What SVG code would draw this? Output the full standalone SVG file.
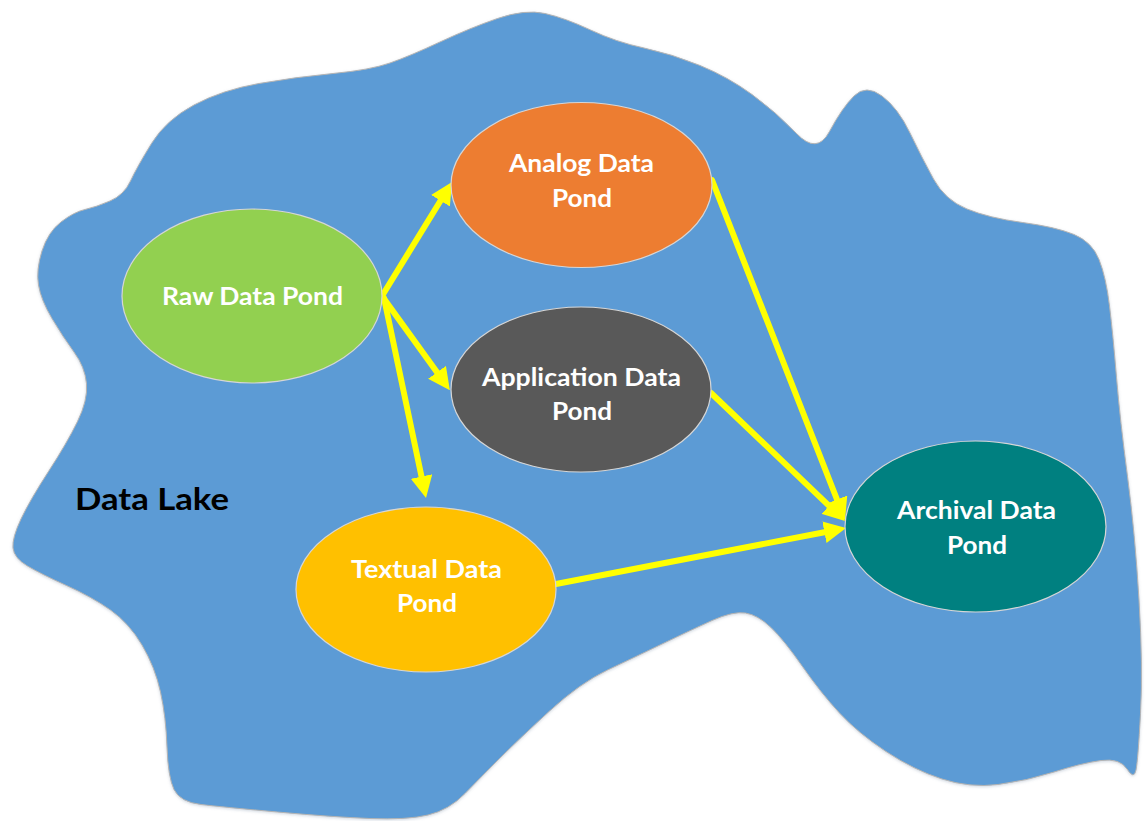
<svg xmlns="http://www.w3.org/2000/svg" width="1145" height="821" viewBox="0 0 1145 821">
  <style>
    .pond { stroke: #D6D6D6; stroke-width: 1.2; }
    .label { font-family: Lato, "Open Sans", "Liberation Sans", sans-serif; font-weight: bold; font-size: 25px; fill: #FFFFFF; text-anchor: middle; }
    .lake-label { font-family: Lato, "Open Sans", "Liberation Sans", sans-serif; font-weight: bold; font-size: 30px; fill: #000000; }
    .flow { fill: none; stroke: #FFFF00; stroke-width: 6; stroke-linecap: round; stroke-linejoin: round; marker-end: url(#head); }
  </style>
  <defs>
    <marker id="head" viewBox="0 0 22 22" refX="0" refY="11" markerWidth="22" markerHeight="22" markerUnits="userSpaceOnUse" orient="auto">
      <path d="M0,0 L22,11 L0,22 Z" fill="#FFFF00"/>
    </marker>
    <filter id="soft" x="-5%" y="-5%" width="110%" height="110%">
      <feDropShadow dx="0" dy="1" stdDeviation="1.5" flood-color="#7A8FA8" flood-opacity="0.35"/>
    </filter>
  </defs>

  <rect width="1145" height="821" fill="#FFFFFF"/>

  <!-- the lake outline -->
  <g id="lake">
    <path filter="url(#soft)" fill="#5B9BD5" stroke="#B4B4B4" stroke-width="1"
      d="M440,42 Q470,28 497.5,18.5 Q525,9 545,13.5 Q565,18 590.5,30 Q616,42 644,48 Q672,54 700,65.5 Q728,77 752,94.5 Q776,112 796.5,133.5 Q817,155 829.5,131.5 Q842,108 854,96 Q866,84 882,96 Q898,108 910,133 Q922,158 933.5,179 Q945,200 967,209 Q989,218 1022.5,222.5 Q1056,227 1074,234.5 Q1092,242 1099,259.5 Q1106,277 1109.5,306 Q1113,335 1116.5,377.5 Q1120,420 1127.5,476.5 Q1135,533 1139,600 Q1143,667 1140.5,713.5 Q1138,760 1136,770 Q1134,780 1127,769 Q1120,758 1101,760.5 Q1082,763 1054,772 Q1026,781 998,784.5 Q970,788 942,779 Q914,770 886,751.5 Q858,733 839.5,713 Q821,693 802.5,666.5 Q784,640 771,627.5 Q758,615 745.5,613 Q733,611 712,620.5 Q691,630 663,643.5 Q635,657 607.5,670 Q580,683 549,711.5 Q518,740 499.5,758.5 Q481,777 465,793.5 Q449,810 428,815 Q407,820 370,818.5 Q333,817 277.5,812 Q222,807 201,804.5 Q180,802 174,789.5 Q168,777 167,747 Q166,717 160.5,692 Q155,667 142,645 Q129,623 110.5,610 Q92,597 66.5,585.5 Q41,574 27.5,566 Q14,558 13,548 Q12,538 21,519 Q30,500 48.5,471.5 Q67,443 77.5,421.5 Q88,400 86.5,383.5 Q85,367 74,352 Q63,337 52,318.5 Q41,300 38.5,285 Q36,270 42,251 Q48,232 61,222 Q74,212 85,209.5 Q96,207 110,201 Q124,195 130.5,181 Q137,167 151.5,143.5 Q166,120 194,105 Q222,90 259,83.5 Q296,77 333,73.5 Q370,70 390,63 Q410,56 440,42 Z"/>
    <text class="lake-label" x="75" y="510" textLength="154" lengthAdjust="spacingAndGlyphs">Data Lake</text>
  </g>

  <!-- flows between ponds -->
  <g id="connectors">
    <line class="flow" x1="382" y1="296" x2="440.5" y2="200.7"/>
    <line class="flow" x1="382" y1="296" x2="437" y2="372.3"/>
    <line class="flow" x1="384" y1="298" x2="421.5" y2="476.5"/>
    <line class="flow" x1="712" y1="180" x2="837" y2="499.5"/>
    <line class="flow" x1="711" y1="393" x2="829.1" y2="505.8"/>
    <line class="flow" x1="556" y1="584" x2="824.4" y2="532.2"/>
  </g>

  <g id="raw-pond">
    <ellipse class="pond" cx="252" cy="296" rx="130" ry="87" fill="#92D050"/>
    <text class="label" x="252.5" y="305" textLength="181" lengthAdjust="spacingAndGlyphs">Raw Data Pond</text>
  </g>

  <g id="analog-pond">
    <ellipse class="pond" cx="581.5" cy="185" rx="130.5" ry="82.5" fill="#ED7D31"/>
    <text class="label" x="581.5" y="172" textLength="145" lengthAdjust="spacingAndGlyphs">Analog Data</text>
    <text class="label" x="582" y="207" textLength="60" lengthAdjust="spacingAndGlyphs">Pond</text>
  </g>

  <g id="application-pond">
    <ellipse class="pond" cx="581" cy="389.5" rx="130" ry="82.5" fill="#595959"/>
    <text class="label" x="581.5" y="386" textLength="199" lengthAdjust="spacingAndGlyphs">Application Data</text>
    <text class="label" x="582" y="420" textLength="60" lengthAdjust="spacingAndGlyphs">Pond</text>
  </g>

  <g id="textual-pond">
    <ellipse class="pond" cx="426" cy="589.5" rx="130" ry="82.5" fill="#FFC000"/>
    <text class="label" x="426.5" y="578" textLength="151" lengthAdjust="spacingAndGlyphs">Textual Data</text>
    <text class="label" x="427" y="612" textLength="60" lengthAdjust="spacingAndGlyphs">Pond</text>
  </g>

  <g id="archival-pond">
    <ellipse class="pond" cx="975.5" cy="526.5" rx="130.5" ry="85.5" fill="#008080"/>
    <text class="label" x="976.5" y="519" textLength="159" lengthAdjust="spacingAndGlyphs">Archival Data</text>
    <text class="label" x="977" y="554" textLength="60" lengthAdjust="spacingAndGlyphs">Pond</text>
  </g>
</svg>
